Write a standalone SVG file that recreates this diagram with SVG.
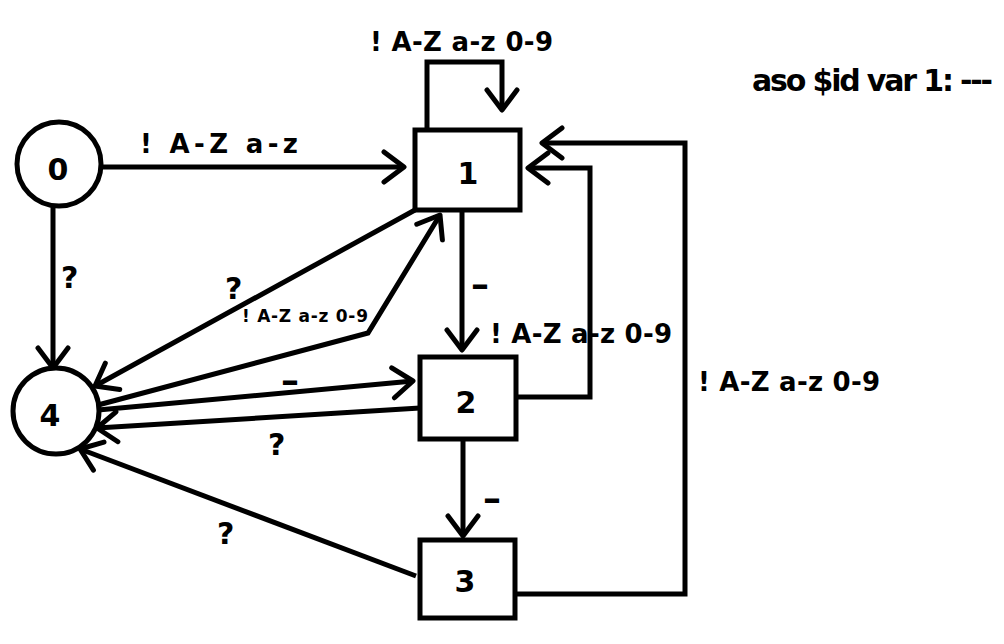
<svg xmlns="http://www.w3.org/2000/svg" width="1004" height="644" viewBox="0 0 1004 644">
  <style>
    .node { fill: #fff; stroke: #000; stroke-width: 5; }
    .edge { fill: none; stroke: #000; stroke-width: 5; marker-end: url(#arr); }
    .lbl { font-family: "DejaVu Sans", "Liberation Sans", sans-serif; font-weight: bold; fill: #000; }
    .big { font-size: 26px; }
    .q { font-size: 30px; }
    .dash { font-size: 36px; }
    .small { font-size: 17px; }
    .id { font-size: 30px; text-anchor: middle; }
  </style>
  <defs>
    <marker id="arr" viewBox="-26 -18 30 36" markerWidth="30" markerHeight="36" refX="0" refY="0" orient="auto" markerUnits="userSpaceOnUse">
      <path d="M-20,-15 L0,0 L-20,15" fill="none" stroke="#000" stroke-width="5" stroke-linecap="round" stroke-linejoin="round"/>
    </marker>
  </defs>
  <rect width="1004" height="644" fill="#fff"/>

  <!-- transitions -->
  <g id="connectors">
    <path class="edge" d="M427,128 L427,62 L502,62 L502,110"/>
    <path class="edge" d="M101,167 L404,167"/>
    <path class="edge" d="M53,208 L53,368"/>
    <path class="edge" d="M462,212 L462,350"/>
    <path class="edge" d="M463,440 L463,536"/>
    <path class="edge" d="M517,397 L590,397 L590,168 L528,168"/>
    <path class="edge" d="M515,594 L685,594 L685,143 L542,143"/>
    <path class="edge" d="M415,210 L95,386"/>
    <path class="edge" d="M98,405 L368,333 L440,215"/>
    <path class="edge" d="M98,410 L413,381"/>
    <path class="edge" d="M420,408 L97,428"/>
    <path class="edge" d="M416,576 L80,449"/>
  </g>

  <!-- edge labels -->
  <g id="edge-labels" class="lbl">
    <text class="big" x="370" y="51" textLength="183" lengthAdjust="spacing">! A-Z a-z 0-9</text>
    <text class="big" x="140" y="153" textLength="158" lengthAdjust="spacing">!  A-Z  a-z</text>
    <text class="q" x="61" y="288">?</text>
    <text class="q" x="225" y="299">?</text>
    <text class="small" x="242" y="322" textLength="126" lengthAdjust="spacing">! A-Z  a-z  0-9</text>
    <text class="dash" x="471" y="297">–</text>
    <text class="big" x="490" y="343" textLength="182" lengthAdjust="spacing">! A-Z a-z 0-9</text>
    <text class="big" x="698" y="391" textLength="182" lengthAdjust="spacing">! A-Z a-z 0-9</text>
    <text class="dash" x="281" y="393">–</text>
    <text class="q" x="268" y="455">?</text>
    <text class="dash" x="483" y="511">–</text>
    <text class="q" x="217" y="544">?</text>
  </g>

  <!-- states -->
  <g id="state-0">
    <circle class="node" cx="59" cy="164" r="42"/>
    <text class="lbl id" x="58" y="180">0</text>
  </g>
  <g id="state-1">
    <rect class="node" x="415" y="130" width="105" height="80"/>
    <text class="lbl id" x="468" y="184">1</text>
  </g>
  <g id="state-2">
    <rect class="node" x="420" y="357" width="96" height="82"/>
    <text class="lbl id" x="466" y="413">2</text>
  </g>
  <g id="state-3">
    <rect class="node" x="420" y="540" width="95" height="78"/>
    <text class="lbl id" x="465" y="592">3</text>
  </g>
  <g id="state-4">
    <circle class="node" cx="56" cy="411" r="43"/>
    <text class="lbl id" x="50" y="426">4</text>
  </g>

  <!-- caption -->
  <g id="caption">
    <text class="lbl" x="752" y="91" font-size="30" textLength="241" lengthAdjust="spacing">aso $id var 1: ---</text>
  </g>
</svg>
